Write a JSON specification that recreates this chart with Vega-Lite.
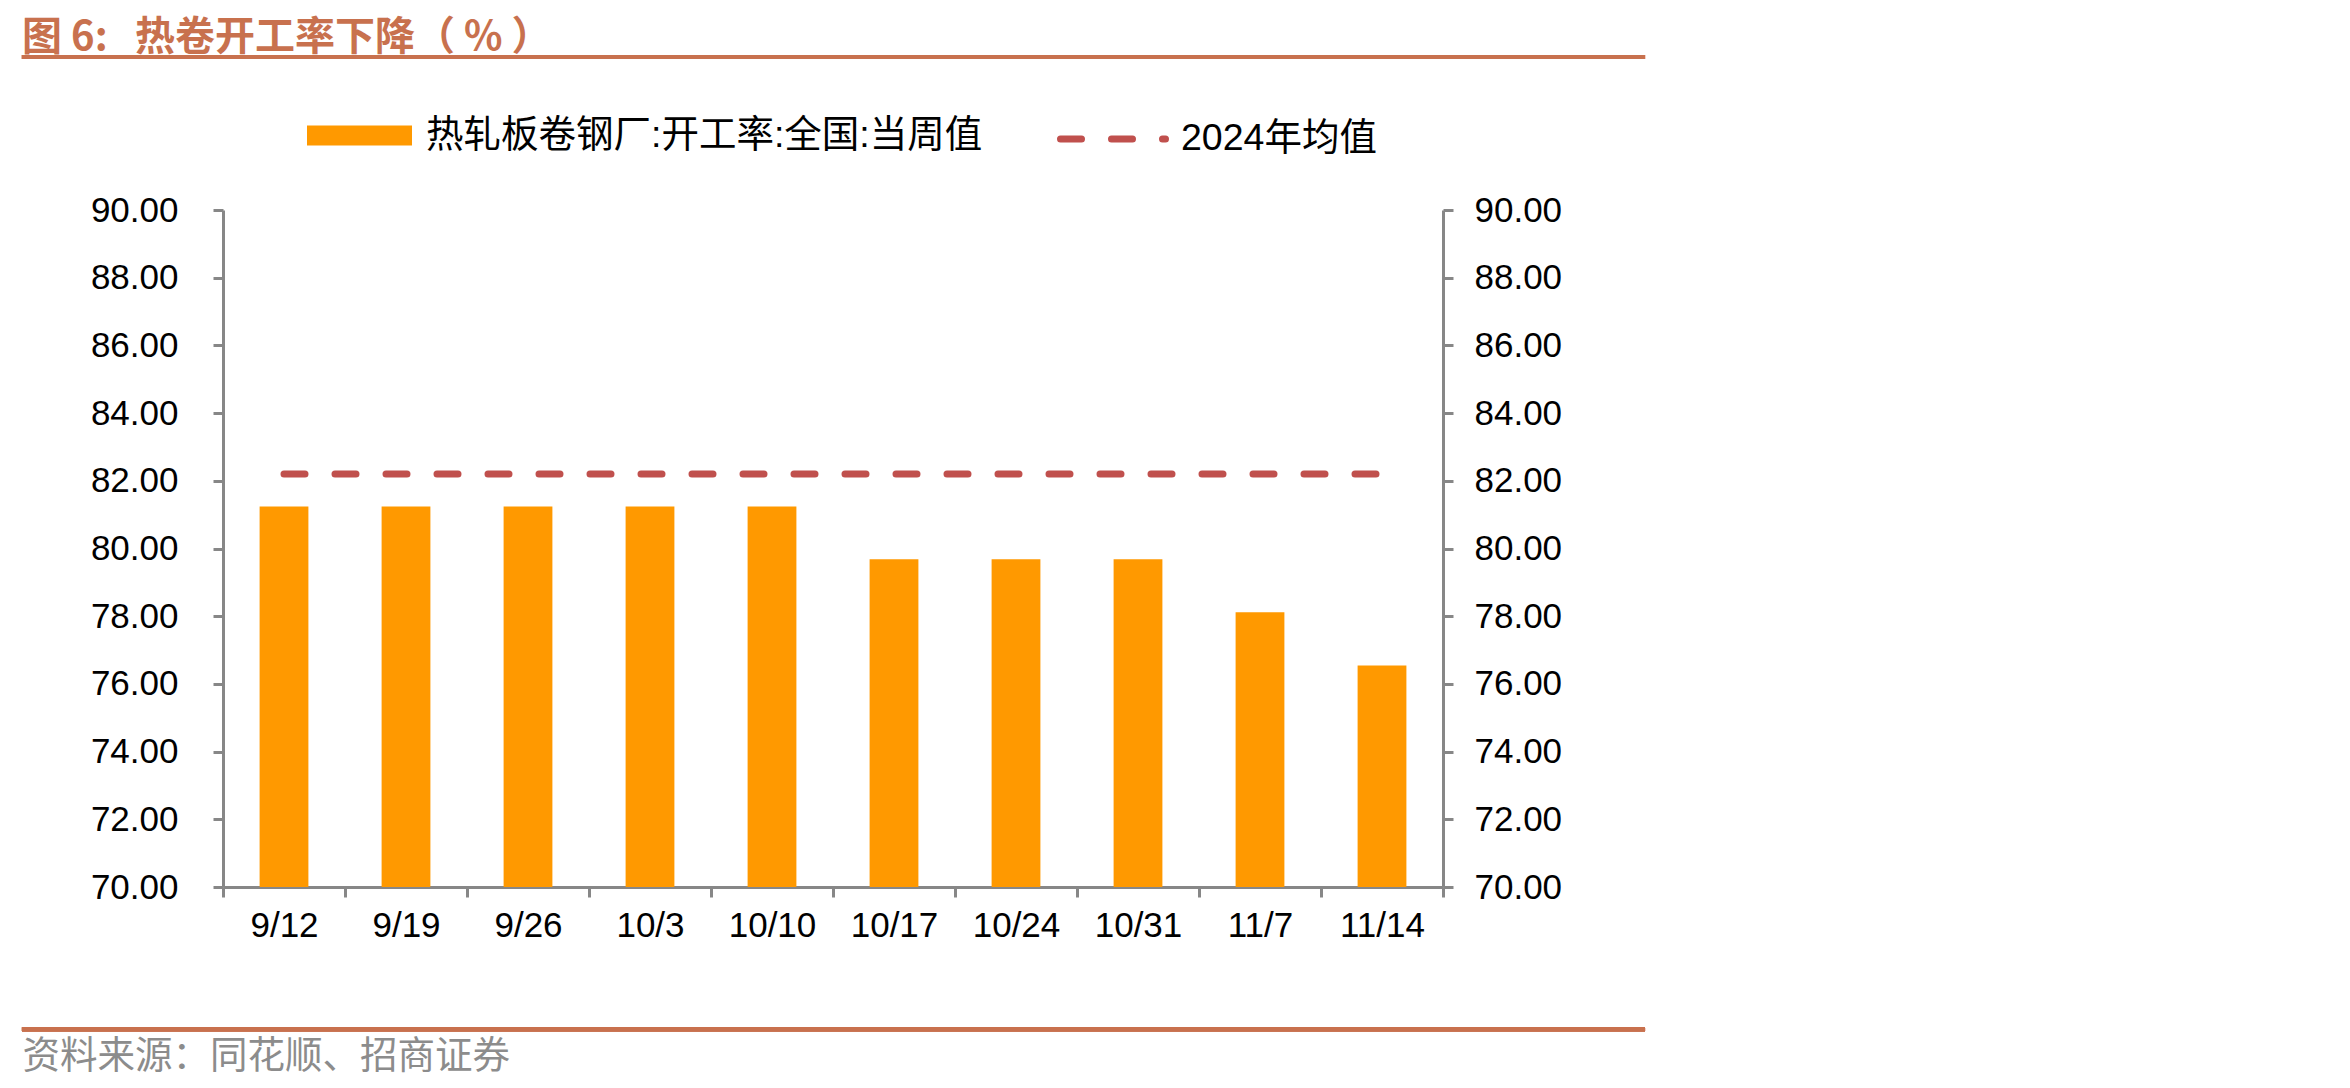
{
  "$schema": "https://vega.github.io/schema/vega-lite/v6.json",
  "autosize": {"type": "none"},
  "padding": {"left": 223, "top": 210, "right": 907, "bottom": 201},
  "width": 1220,
  "height": 677,
  "background": "#ffffff",
  "config": {"view": {"stroke": null}},
  "title": {
    "text": "图\u00a06:\u00a0\u00a0\u00a0热卷开工率下降（\u00a0%\u00a0）",
    "anchor": "start",
    "frame": "group",
    "dx": -201,
    "offset": -3,
    "font": "Noto Sans CJK SC",
    "fontSize": 40,
    "fontWeight": "bold",
    "color": "#C8714E"
  },
  "data": {
    "values": [
      {"date": "9/12", "value": 81.24, "avg": 82.2},
      {"date": "9/19", "value": 81.24, "avg": 82.2},
      {"date": "9/26", "value": 81.24, "avg": 82.2},
      {"date": "10/3", "value": 81.24, "avg": 82.2},
      {"date": "10/10", "value": 81.24, "avg": 82.2},
      {"date": "10/17", "value": 79.68, "avg": 82.2},
      {"date": "10/24", "value": 79.68, "avg": 82.2},
      {"date": "10/31", "value": 79.68, "avg": 82.2},
      {"date": "11/7", "value": 78.12, "avg": 82.2},
      {"date": "11/14", "value": 76.54, "avg": 82.2}
    ]
  },
  "layer": [
    {
      "mark": {"type": "bar", "width": {"band": 0.4}},
      "encoding": {
        "x": {
          "field": "date", "type": "nominal", "sort": null,
          "scale": {"paddingInner": 0, "paddingOuter": 0},
          "axis": {
            "title": "资料来源：同花顺、招商证券",
            "titleFont": "Noto Sans CJK SC",
            "titleFontSize": 37.5,
            "titleFontWeight": "normal",
            "titleColor": "#8C8C8C",
            "titleAnchor": "start",
            "titleAlign": "left",
            "titleBaseline": "middle",
            "titleX": -201,
            "titleY": 169,
            "labelAngle": 0,
            "labelFont": "Liberation Sans",
            "labelFontSize": 35,
            "labelColor": "#000000",
            "labelPadding": 11,
            "tickBand": "extent",
            "tickSize": 10,
            "tickWidth": 3,
            "tickColor": "#878787",
            "domainColor": "#878787",
            "domainWidth": 3,
            "grid": false
          }
        },
        "y": {
          "field": "value", "type": "quantitative",
          "scale": {"domain": [70, 90], "nice": false, "zero": false},
          "axis": {
            "title": null,
            "orient": "left",
            "values": [70, 72, 74, 76, 78, 80, 82, 84, 86, 88, 90],
            "format": ".2f",
            "labelFont": "Liberation Sans",
            "labelFontSize": 35,
            "labelColor": "#000000",
            "labelPadding": 35,
            "tickSize": 10,
            "tickWidth": 3,
            "tickColor": "#878787",
            "domainColor": "#878787",
            "domainWidth": 3,
            "grid": false
          }
        },
        "y2": {"datum": 70},
        "fill": {
          "datum": "热轧板卷钢厂:开工率:全国:当周值",
          "scale": {"range": ["#FF9900"]},
          "legend": {
            "orient": "none",
            "legendX": 84,
            "legendY": -127,
            "title": null,
            "padding": 0,
            "symbolType": "M-1,-0.19H1V0.19H-1Z",
            "symbolSize": 11025,
            "symbolStrokeWidth": 0,
            "labelFont": "Liberation Sans, Noto Sans CJK SC",
            "labelFontSize": 37.5,
            "labelColor": "#000000",
            "labelOffset": 14,
            "labelLimit": 1000
          }
        }
      }
    },
    {
      "mark": {"type": "line", "strokeWidth": 7, "strokeDash": [21, 30], "strokeCap": "round"},
      "encoding": {
        "x": {"field": "date", "type": "nominal", "sort": null, "scale": {"paddingInner": 0, "paddingOuter": 0}, "axis": null},
        "y": {
          "field": "avg", "type": "quantitative",
          "scale": {"domain": [70, 90], "nice": false, "zero": false},
          "axis": {
            "title": null,
            "orient": "right",
            "values": [70, 72, 74, 76, 78, 80, 82, 84, 86, 88, 90],
            "format": ".2f",
            "labelFont": "Liberation Sans",
            "labelFontSize": 35,
            "labelColor": "#000000",
            "labelPadding": 21,
            "tickSize": 10,
            "tickWidth": 3,
            "tickColor": "#878787",
            "domainColor": "#878787",
            "domainWidth": 3,
            "grid": false
          }
        },
        "stroke": {
          "datum": "2024年均值",
          "scale": {"range": ["#C0504D"]},
          "legend": {
            "orient": "none",
            "legendX": 834,
            "legendY": -127,
            "title": null,
            "padding": 0,
            "symbolType": "stroke",
            "symbolSize": 11025,
            "symbolStrokeWidth": 7,
            "symbolDash": [21, 30],
            "labelFont": "Liberation Sans, Noto Sans CJK SC",
            "labelFontSize": 37.5,
            "labelColor": "#000000",
            "labelOffset": 12,
            "labelLimit": 1000,
            "encode": {"symbols": {"update": {"strokeCap": {"value": "round"}}}}
          }
        }
      }
    },
    {
      "mark": {"type": "rule", "color": "#C8714E", "strokeWidth": 4},
      "encoding": {
        "x": {"datum": -0.1648, "type": "quantitative", "scale": {"domain": [0, 1], "nice": false, "zero": false}, "axis": null},
        "x2": {"datum": 1.1656},
        "y": {"datum": 94.52, "type": "quantitative", "scale": {"domain": [70, 90], "nice": false, "zero": false}, "axis": null}
      }
    },
    {
      "mark": {"type": "rule", "color": "#C8714E", "strokeWidth": 4},
      "encoding": {
        "x": {"datum": -0.1648, "type": "quantitative", "scale": {"domain": [0, 1], "nice": false, "zero": false}, "axis": null},
        "x2": {"datum": 1.1656},
        "y": {"datum": 65.8, "type": "quantitative", "scale": {"domain": [70, 90], "nice": false, "zero": false}, "axis": null}
      }
    }
  ],
  "resolve": {"scale": {"x": "independent", "y": "independent", "fill": "independent", "stroke": "independent"}}
}
